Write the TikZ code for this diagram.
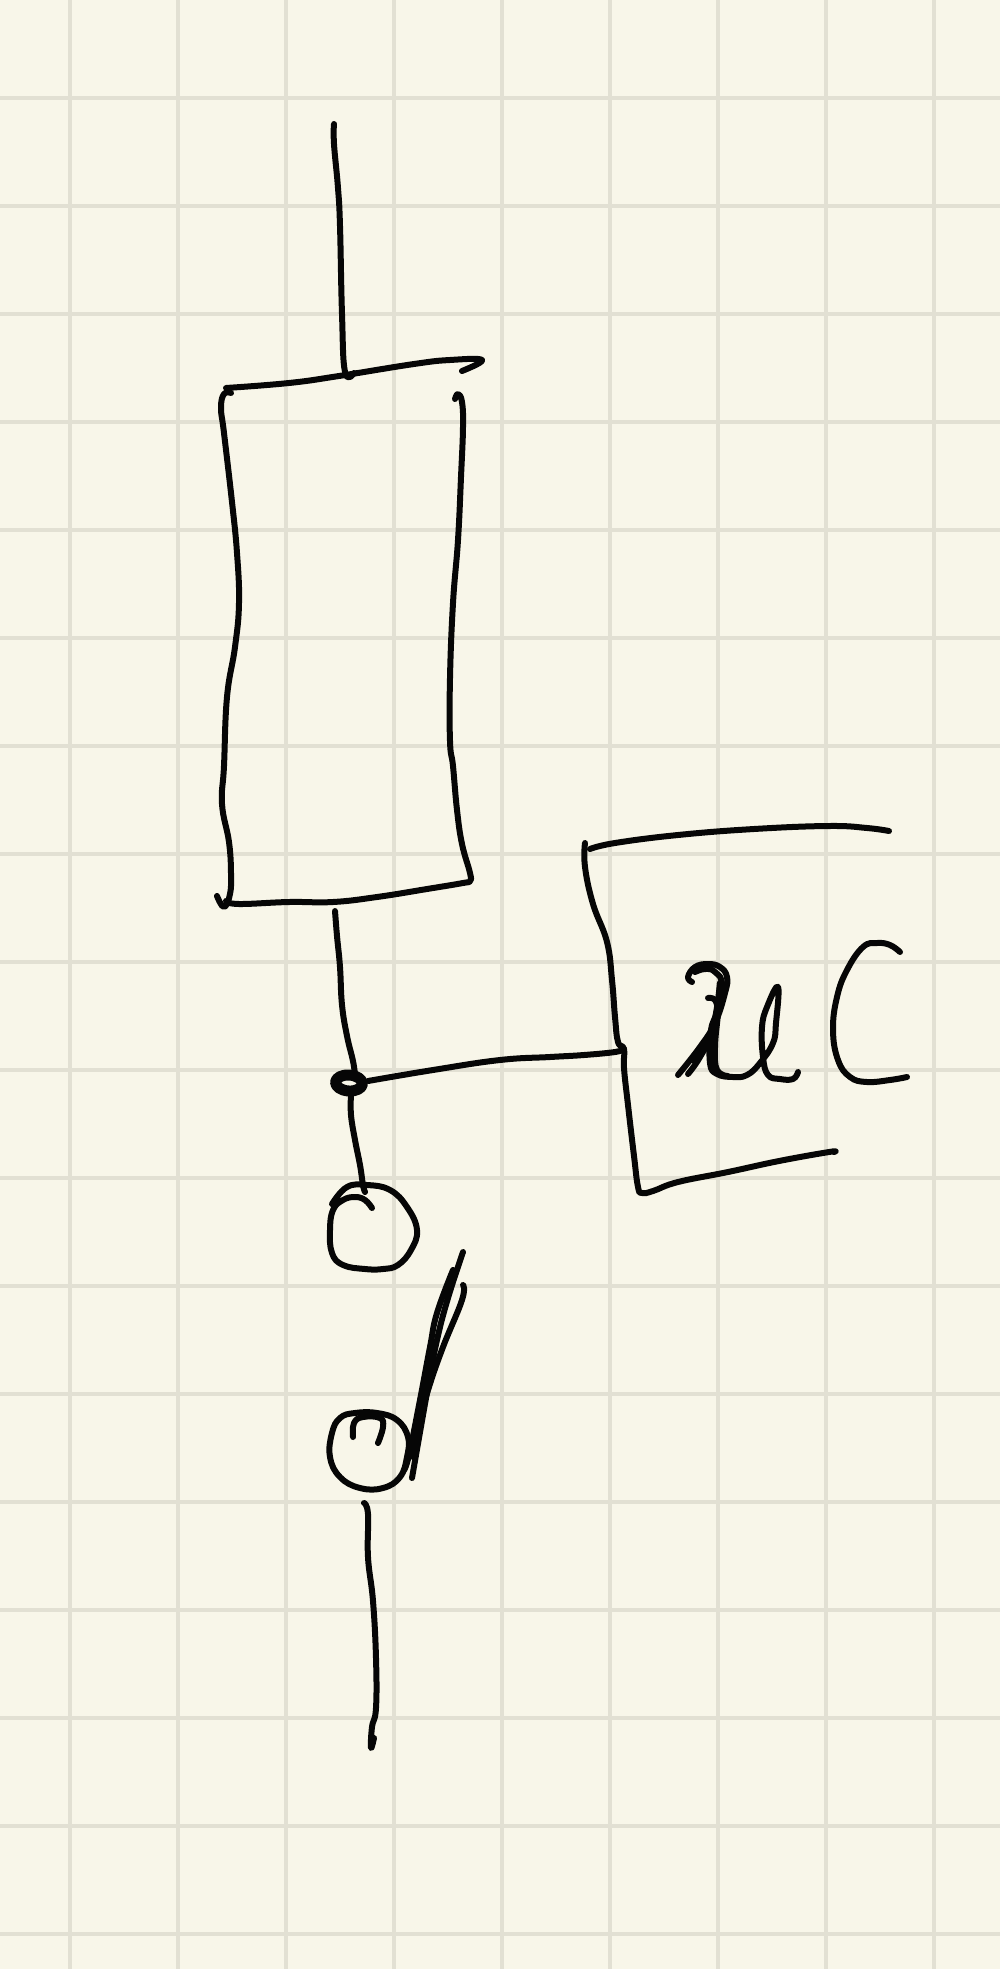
\documentclass[tikz,border=0pt]{standalone}
\usepackage{xcolor}
\definecolor{sketchpaper}{HTML}{F8F6E9}
\definecolor{sketchgrid}{HTML}{E2E0D3}
\definecolor{sketchink}{HTML}{060606}
\tikzset{
  every picture/.append style={line cap=round,line join=round},
  sketch grid/.style={sketchgrid,line width=4.4pt,line cap=butt},
  sketch pen/.style={sketchink,line width=6pt,smooth,tension=0.72},
  sketch blob/.style={sketchink,line width=11pt}
}
\begin{document}
\begin{tikzpicture}[x=1pt,y=-1pt]
  \useasboundingbox (0,0) rectangle (1000,1969);
  \fill[sketchpaper] (0,0) rectangle (1000,1969);
  \foreach \gx in {70,178,...,934} \draw[sketch grid] (\gx,0) -- (\gx,1969);
  \foreach \gy in {98,206,...,1934} \draw[sketch grid] (0,\gy) -- (1000,\gy);
  % top wire and box
  \draw[sketch pen] plot coordinates {(334,124) (334,144) (338,188) (340,226) (342,314) (345,372) (354,373)};
  \draw[sketch pen] plot coordinates {(226,388) (289,383) (339,376) (414,364) (450,360) (482,360) (462,371)};
  \draw[sketch pen] plot coordinates {(231,393) (224,394) (221,408) (224,433) (232,502) (237,553) (239,603) (235,647) (227,697) (224,766) (222,804) (229,842) (231,873) (230,894) (224,907) (217,896)};
  \draw[sketch pen] plot coordinates {(226,901) (239,904) (289,902) (333,902) (377,897) (427,889) (463,883) (470,881) (470,873) (462,844) (457,810) (453,766) (450,741) (450,678) (453,603) (458,540) (461,477) (463,427) (462,402) (458,394) (455,399)};
  % junction
  \draw[sketch pen] plot coordinates {(335,911) (337,936) (340,967) (342,1005) (347,1036) (353,1061) (355,1075)};
  \draw[sketch blob,rotate around={-4:(349,1083)}] (349,1083) ellipse [x radius=13.5,y radius=8];
  \draw[sketch pen] plot coordinates {(351,1095) (351,1115) (355,1140) (360,1165) (363,1185) (365,1192)};
  \draw[sketch pen] plot coordinates {(368,1081) (433,1070) (500,1060) (550,1057) (584,1055) (615,1052) (624,1049)};
  % right bracket
  \draw[sketch pen] plot coordinates {(590,849) (615,843) (678,835) (754,829) (829,826) (867,828) (889,831)};
  \draw[sketch pen] plot coordinates {(585,843) (585,867) (593,904) (607,942) (612,980) (615,1017) (618,1042) (624,1049) (624,1068) (628,1105) (634,1156) (638,1187) (642,1193) (653,1191) (678,1182) (728,1172) (779,1161) (829,1152) (834,1152)};
  % uC
  \draw[sketch pen] plot coordinates {(692,982) (688,977) (695,967) (708,964) (720,967) (727,977) (725,993) (715,1023) (700,1047) (678,1075)};
  \draw[sketch pen] plot coordinates {(695,972) (705,969) (715,972) (722,987) (713,1030) (700,1057) (688,1074)};
  \draw[sketch pen] plot coordinates {(720,983) (716,1013) (709,1040) (695,1062)};
  \draw[sketch pen] plot coordinates {(720,983) (718,1013) (715,1047) (717,1070) (728,1076)};
  \draw[sketch pen] plot coordinates {(708,998) (715,1000) (717,1012) (711,1030) (710,1063) (717,1074) (733,1077) (747,1075) (760,1063) (773,1043) (776,1023) (778,987) (767,1007) (762,1027) (763,1057) (768,1075) (780,1079) (793,1079) (798,1072)};
  \draw[sketch pen] plot coordinates {(900,952) (890,945) (877,943) (863,947) (847,970) (837,997) (833,1030) (838,1060) (850,1077) (867,1082) (890,1080) (907,1077)};
  % upper circle
  \draw[sketch pen] plot coordinates {(332,1204) (347,1187) (367,1185) (390,1190) (407,1207) (417,1230) (411,1250) (398,1265) (383,1269) (365,1269) (343,1265) (332,1253) (330,1230) (333,1210) (343,1200) (355,1197) (365,1200) (372,1208)};
  % lower circle
  \draw[sketch pen] plot coordinates {(353,1437) (354,1423) (363,1417) (380,1418) (383,1427) (378,1443)};
  \draw[sketch pen] plot[smooth cycle] coordinates {(355,1413) (377,1413) (397,1420) (408,1437) (407,1457) (400,1477) (383,1488) (360,1488) (340,1477) (330,1457) (332,1433) (340,1418)};
  % slanted strokes
  \draw[sketch pen] plot coordinates {(463,1252) (448,1298) (437,1340) (428,1387) (412,1478)};
  \draw[sketch pen] plot coordinates {(453,1270) (437,1313) (430,1347) (420,1400) (409,1455) (404,1470)};
  \draw[sketch pen] plot coordinates {(463,1285) (462,1300) (443,1347) (429,1387) (420,1420) (413,1457)};
  % bottom wire
  \draw[sketch pen] plot coordinates {(364,1503) (368,1514) (368,1557) (373,1601) (376,1658) (376,1708) (372,1727) (371,1748) (374,1738)};
\end{tikzpicture}
\end{document}
